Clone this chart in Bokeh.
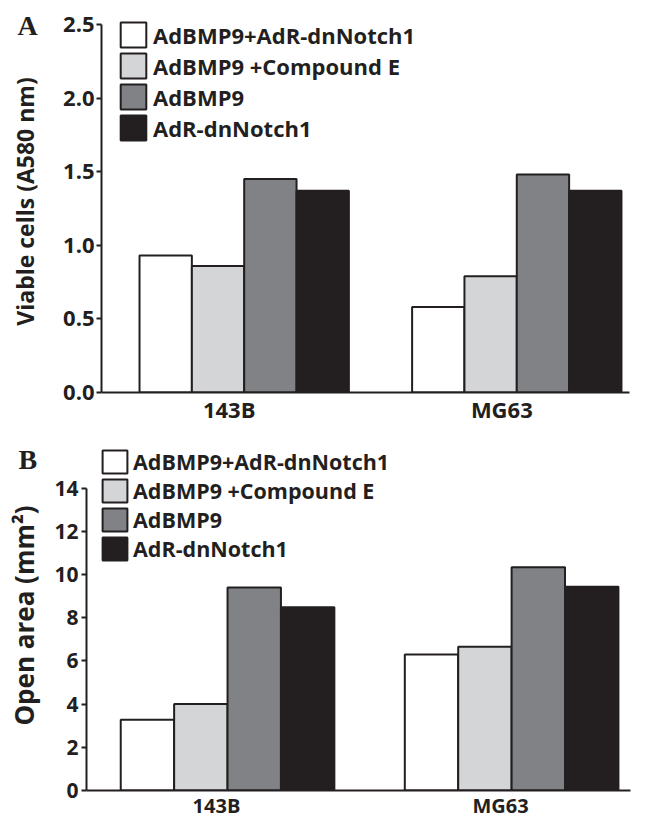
from bokeh.plotting import figure
from bokeh.models import (ColumnDataSource, Range1d, FactorRange, Legend, LegendItem,
                          Label, FixedTicker, NumeralTickFormatter)
from bokeh.transform import dodge
from bokeh.layouts import column
from bokeh.embed import file_html
from bokeh.resources import INLINE

# ---------------- data ----------------
cell_lines = ["143B", "MG63"]
treatments = ["AdBMP9+AdR-dnNotch1", "AdBMP9 +Compound E", "AdBMP9", "AdR-dnNotch1"]
bar_colors = ["#ffffff", "#d4d5d7", "#818285", "#231f20"]

# Panel A: viable cells (A580 nm)  [143B, MG63]
viable_combo = [0.93, 0.58]
viable_compE = [0.86, 0.79]
viable_bmp9 = [1.45, 1.48]
viable_dn = [1.37, 1.37]
yticks_A = [0.0, 0.5, 1.0, 1.5, 2.0, 2.5]

# Panel B: open area (mm2)  [143B, MG63]
open_combo = [3.28, 6.30]
open_compE = [4.00, 6.66]
open_bmp9 = [9.40, 10.34]
open_dn = [8.48, 9.43]
yticks_B = [0, 2, 4, 6, 8, 10, 12, 14]

FONT = "Open Sans"
INK = "#231f20"


def make_panel(values, yticks, ytitle, letter, *, height, left, top, bottom,
               top_gap_px, axis_px, x_pad, bar_w, shift, tick_size, xtick_size, title_size,
               title_standoff, label_standoff, legend_xy, legend_size, glyph_w, glyph_h,
               legend_standoff, letter_xy, fmt=None):
    # y range extends a little above the top tick so the legend fits in the frame;
    # the axis line itself is bounded to the tick span
    y_top = yticks[-1] + (yticks[-1] - yticks[0]) * top_gap_px / axis_px
    src = ColumnDataSource(dict(cell=cell_lines,
                                **{f"t{i}": v for i, v in enumerate(values)}))
    p = figure(x_range=FactorRange(*cell_lines, range_padding=x_pad,
                                   range_padding_units="absolute"),
               y_range=Range1d(yticks[0], y_top),
               width=649, height=height, output_backend="svg",
               toolbar_location=None, min_border_left=left, min_border_right=6,
               min_border_top=top, min_border_bottom=bottom)
    p.frame_align = False
    p.background_fill_color = "white"
    p.border_fill_color = "white"
    p.outline_line_color = None
    p.xgrid.visible = False
    p.ygrid.visible = False

    items = []
    for i, name in enumerate(treatments):
        off = (i - 1.5) * bar_w + shift
        r = p.vbar(x=dodge("cell", off, range=p.x_range), top=f"t{i}", width=bar_w,
                   source=src, fill_color=bar_colors[i], line_color=INK, line_width=2)
        items.append(LegendItem(label=name, renderers=[r]))

    leg = Legend(items=items, location=legend_xy, orientation="vertical",
                 padding=0, margin=0, spacing=0, border_line_color=None,
                 background_fill_alpha=0, glyph_width=glyph_w, glyph_height=glyph_h,
                 label_standoff=legend_standoff, label_height=glyph_h,
                 label_text_font=FONT, label_text_font_style="bold",
                 label_text_font_size=legend_size, label_text_color=INK,
                 label_text_baseline="middle")
    p.add_layout(leg, "center")

    # y axis
    ya = p.yaxis[0]
    ya.ticker = FixedTicker(ticks=yticks)
    ya.bounds = (yticks[0], yticks[-1])
    if fmt:
        ya.formatter = NumeralTickFormatter(format=fmt)
    ya.axis_label = ytitle
    ya.axis_label_text_font = FONT
    ya.axis_label_text_font_style = "bold"
    ya.axis_label_text_font_size = title_size
    ya.axis_label_text_color = INK
    ya.axis_label_standoff = title_standoff
    ya.major_label_text_font = FONT
    ya.major_label_text_font_style = "bold"
    ya.major_label_text_font_size = tick_size
    ya.major_label_text_color = INK
    ya.major_label_standoff = label_standoff
    ya.axis_line_width = 2
    ya.axis_line_color = INK
    ya.major_tick_line_width = 2
    ya.major_tick_line_color = INK
    ya.major_tick_out = 5
    ya.major_tick_in = 0
    ya.minor_tick_out = 0
    ya.minor_tick_in = 0

    # x axis
    xa = p.xaxis[0]
    xa.major_label_text_font = FONT
    xa.major_label_text_font_style = "bold"
    xa.major_label_text_font_size = xtick_size
    xa.major_label_text_color = INK
    xa.major_label_standoff = 1
    xa.axis_line_width = 2
    xa.axis_line_color = INK
    xa.major_tick_out = 0
    xa.major_tick_in = 0
    xa.minor_tick_out = 0

    # panel letter, kept in a side panel so that it is not clipped by the frame
    p.add_layout(Label(x=letter_xy[0], y=letter_xy[1], x_units="screen", y_units="screen",
                       text=letter, text_font="Liberation Serif", text_font_style="bold",
                       text_font_size="28px", text_color=INK,
                       text_baseline="alphabetic", text_align="left"), "right")
    return p


pA = make_panel([viable_combo, viable_compE, viable_bmp9, viable_dn], yticks_A,
                "Viable cells (A580 nm)", "A",
                height=426, left=101, top=10, bottom=32, top_gap_px=14, axis_px=370,
                x_pad=-0.0315, bar_w=0.192, shift=0.055, tick_size="22px", xtick_size="22px",
                title_size="23px", title_standoff=19, label_standoff=2,
                legend_xy=(16, 249), legend_size="22px", glyph_w=32, glyph_h=31,
                legend_standoff=4, letter_xy=(-612, 367), fmt="0.0")

pB = make_panel([open_combo, open_compE, open_bmp9, open_dn], yticks_B,
                "Open area (mm\u00b2)", "B",
                height=395, left=86, top=14, bottom=28, top_gap_px=48, axis_px=305,
                x_pad=-0.0425, bar_w=0.188, shift=0.039, tick_size="21px", xtick_size="20px",
                title_size="26px", title_standoff=9, label_standoff=3,
                legend_xy=(13, 227), legend_size="21.5px", glyph_w=31, glyph_h=29,
                legend_standoff=3, letter_xy=(-612, 331))

layout = column(pA, pB, spacing=0)
open("out.html", "w").write(file_html(layout, INLINE))
